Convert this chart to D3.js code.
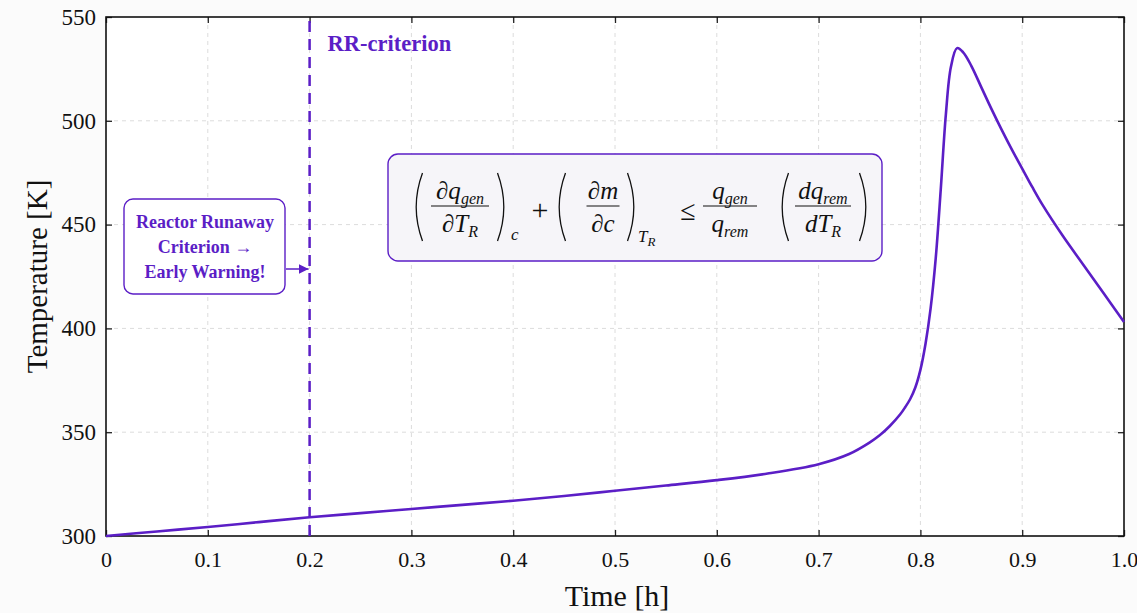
<!DOCTYPE html>
<html><head><meta charset="utf-8">
<script src="https://cdn.jsdelivr.net/npm/d3@7"></script>
<style>html,body{margin:0;padding:0;background:#fbfbfb;}svg{display:block;}</style>
</head><body>
<script>
const times = [0,0.05,0.1,0.15,0.2,0.25,0.3,0.35,0.4,0.45,0.5,0.55,0.6,0.65,0.7,0.73,0.75,0.76,0.77,0.78,0.785,0.79,0.795,0.8,0.805,0.81,0.815,0.82,0.825,0.83,0.836,0.842,0.85,0.86,0.87,0.88,0.89,0.9,0.91,0.92,0.94,0.96,0.98,1.0];
const temps = [300,302.2,304.3,306.7,309,311,313,315,317,319.3,321.8,324.3,326.9,330.1,334.6,339.5,345,348.5,353,358.5,362,366,371.5,380,392.5,409.5,433.5,467,503,526,535,533,526.5,516,505.5,495.5,486,477,468,459.5,444.5,430.7,416.9,403.1];
const xTicks = [0,0.1,0.2,0.3,0.4,0.5,0.6,0.7,0.8,0.9,1.0];
const xTickLabels = ["0","0.1","0.2","0.3","0.4","0.5","0.6","0.7","0.8","0.9","1.0"];
const yTicks = [300,350,400,450,500,550];
const criterionTime = 0.2;
const annotationLines = ["Reactor Runaway","Criterion \u2192","Early Warning!"];

const W=1137,H=613;
const m={l:106,r:13,t:17,b:77};
const purple="#5b1ec6";
const serif="'Liberation Serif','DejaVu Serif',serif";
const svg=d3.select("body").append("svg").attr("width",W).attr("height",H);
const x=d3.scaleLinear().domain([0,1]).range([m.l,W-m.r]);
const y=d3.scaleLinear().domain([300,550]).range([H-m.b,m.t]);

svg.append("rect").attr("x",m.l).attr("y",m.t).attr("width",x(1)-x(0)).attr("height",y(300)-y(550)).attr("fill","#fff");

// grid
svg.append("g").selectAll("line").data(xTicks.slice(1,-1)).join("line")
 .attr("x1",d=>x(d)).attr("x2",d=>x(d)).attr("y1",m.t).attr("y2",y(300))
 .attr("stroke","#dcdcdc").attr("stroke-dasharray","4,4").attr("stroke-width",1);
svg.append("g").selectAll("line").data(yTicks.slice(1,-1)).join("line")
 .attr("y1",d=>y(d)).attr("y2",d=>y(d)).attr("x1",m.l).attr("x2",x(1))
 .attr("stroke","#dcdcdc").attr("stroke-dasharray","4,4").attr("stroke-width",1);

// axes
const xAxis=d3.axisBottom(x).tickValues(xTicks).tickFormat((d,i)=>xTickLabels[i]).tickSizeInner(-6).tickSizeOuter(0).tickPadding(15);
const gx=svg.append("g").attr("transform",`translate(0,${y(300)})`).call(xAxis);
gx.select(".domain").remove();
gx.selectAll("line").attr("stroke","#222").attr("stroke-width",1.3);
gx.selectAll("text").attr("font-family",serif).attr("font-size",22).attr("fill","#111");
const yAxis=d3.axisLeft(y).tickValues(yTicks).tickSizeInner(-6).tickSizeOuter(0).tickPadding(10);
const gy=svg.append("g").attr("transform",`translate(${m.l},0)`).call(yAxis);
gy.select(".domain").remove();
gy.selectAll("line").attr("stroke","#222").attr("stroke-width",1.3);
gy.selectAll("text").attr("font-family",serif).attr("font-size",23).attr("fill","#111");
// mirror ticks
const gt=svg.append("g").attr("transform",`translate(0,${m.t})`).call(d3.axisTop(x).tickValues(xTicks).tickSizeInner(-6).tickSizeOuter(0).tickFormat(""));
gt.select(".domain").remove(); gt.selectAll("line").attr("stroke","#222").attr("stroke-width",1.3);
const gr=svg.append("g").attr("transform",`translate(${x(1)},0)`).call(d3.axisRight(y).tickValues(yTicks).tickSizeInner(-6).tickSizeOuter(0).tickFormat(""));
gr.select(".domain").remove(); gr.selectAll("line").attr("stroke","#222").attr("stroke-width",1.3);

svg.append("rect").attr("x",m.l).attr("y",m.t).attr("width",x(1)-x(0)).attr("height",y(300)-y(550))
 .attr("fill","none").attr("stroke","#111").attr("stroke-width",1.6);

// labels
svg.append("text").attr("x",(x(0)+x(1))/2+2).attr("y",606).attr("text-anchor","middle")
 .attr("font-family",serif).attr("font-size",30).attr("fill","#111").text("Time [h]");
svg.append("text").attr("transform",`translate(47,${(y(300)+y(550))/2}) rotate(-90)`).attr("text-anchor","middle")
 .attr("font-family",serif).attr("font-size",29).attr("fill","#111").text("Temperature [K]");

// criterion line
svg.append("line").attr("x1",x(criterionTime)).attr("x2",x(criterionTime)).attr("y1",m.t+4).attr("y2",y(300))
 .attr("stroke",purple).attr("stroke-width",2.5).attr("stroke-dasharray","11,7");
svg.append("text").attr("x",x(criterionTime)+18).attr("y",51).attr("font-family",serif).attr("font-weight","bold")
 .attr("font-size",22.5).attr("fill",purple).text("RR-criterion");

// curve
const data=times.map((t,i)=>({t,T:temps[i]}));
svg.append("path").datum(data).attr("fill","none").attr("stroke",purple).attr("stroke-width",2.6)
 .attr("stroke-linejoin","round")
 .attr("d",d3.line().x(d=>x(d.t)).y(d=>y(d.T)).curve(d3.curveCatmullRom.alpha(0.5)));

// annotation box
svg.append("rect").attr("x",124).attr("y",199).attr("width",161).attr("height",95).attr("rx",9)
 .attr("fill","#fff").attr("stroke",purple).attr("stroke-width",1.4);
svg.append("g").selectAll("text").data(annotationLines).join("text")
 .attr("x",205).attr("y",(d,i)=>228+i*25).attr("text-anchor","middle").attr("font-family",serif)
 .attr("font-weight","bold").attr("font-size",18).attr("fill",purple).text(d=>d);
svg.append("defs").append("marker").attr("id","ah").attr("viewBox","0 0 10 10").attr("refX",10).attr("refY",5)
 .attr("markerWidth",10).attr("markerHeight",10).attr("markerUnits","userSpaceOnUse").attr("orient","auto")
 .append("path").attr("d","M0,0L10,5L0,10Z").attr("fill",purple);
svg.append("line").attr("x1",286).attr("x2",x(criterionTime)-1).attr("y1",269).attr("y2",269)
 .attr("stroke",purple).attr("stroke-width",1.5).attr("marker-end","url(#ah)");

// formula box
svg.append("rect").attr("x",388).attr("y",154).attr("width",494).attr("height",107).attr("rx",10)
 .attr("fill","#f6f5f9").attr("stroke",purple).attr("stroke-width",1.4);
const f=svg.append("g").attr("font-family",serif).attr("fill","#111");
function paren(cx,open){
  const top=173,bot=241,w=7;
  const d=open?`M${cx+w/2},${top} Q${cx-w*1.3},${(top+bot)/2} ${cx+w/2},${bot}`:`M${cx-w/2},${top} Q${cx+w*1.3},${(top+bot)/2} ${cx-w/2},${bot}`;
  f.append("path").attr("d",d).attr("fill","none").attr("stroke","#111").attr("stroke-width",1.3);
}
function frac(cx,num,den,w){
  f.append("line").attr("x1",cx-w/2).attr("x2",cx+w/2).attr("y1",206).attr("y2",206).attr("stroke","#111").attr("stroke-width",1.1);
  const tn=f.append("text").attr("x",cx).attr("y",199).attr("text-anchor","middle").attr("font-size",25).attr("font-style","italic");
  num.forEach(p=>tn.append("tspan").attr("font-size",p[1]?16:25).attr("dy",p[1]?p[1]:0).text(p[0]));
  const td=f.append("text").attr("x",cx).attr("y",232).attr("text-anchor","middle").attr("font-size",25).attr("font-style","italic");
  den.forEach(p=>td.append("tspan").attr("font-size",p[1]?16:25).attr("dy",p[1]?p[1]:0).text(p[0]));
}
paren(419,true);
frac(460,[["\u2202q"],["gen",5]],[["\u2202T"],["R",5]],58);
paren(501,false);
f.append("text").attr("x",511).attr("y",240).attr("font-size",17).attr("font-style","italic").text("c");
f.append("text").attr("x",540).attr("y",220).attr("text-anchor","middle").attr("font-size",30).text("+");
paren(562,true);
frac(603,[["\u2202m"]],[["\u2202c"]],33);
paren(631,false);
const tr=f.append("text").attr("x",638).attr("y",242).attr("font-size",17).attr("font-style","italic");
tr.append("tspan").text("T"); tr.append("tspan").attr("font-size",13).attr("dy",4).text("R");
f.append("text").attr("x",688).attr("y",220).attr("text-anchor","middle").attr("font-size",28).text("\u2264");
frac(730,[["q"],["gen",5]],[["q"],["rem",5]],54);
paren(785,true);
frac(823,[["dq"],["rem",5]],[["dT"],["R",5]],56);
paren(863,false);
</script>
</body></html>
